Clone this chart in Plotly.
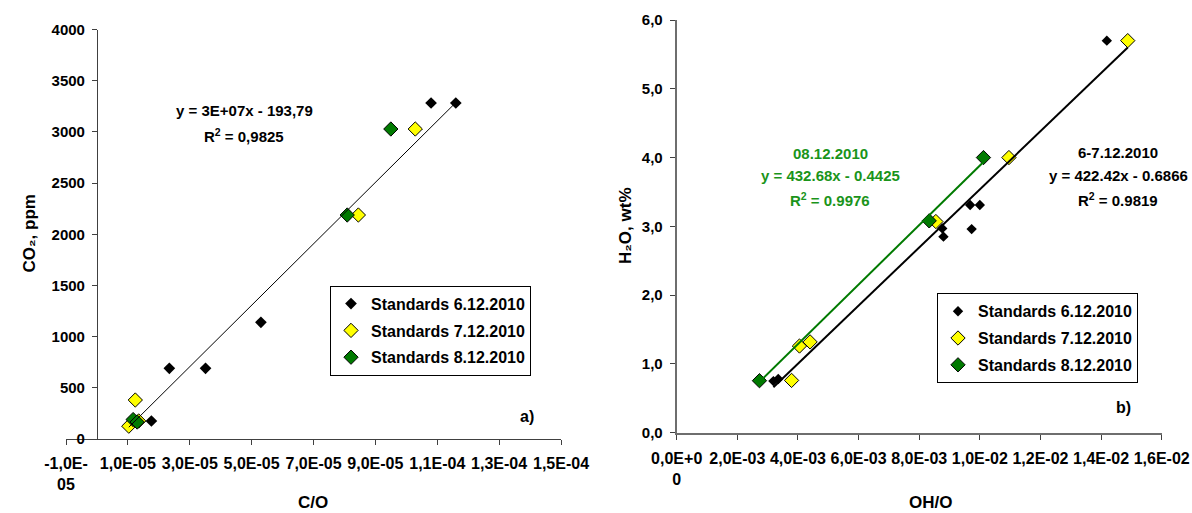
import plotly.graph_objects as go

W, H = 1192, 513
FONT = "Liberation Sans, Arial, sans-serif"

# ---- panel a) : CO2 vs C/O ----
co_black_x = [1.76e-05, 2.34e-05, 3.51e-05, 5.30e-05, 1.08e-04, 1.16e-04]
co_black_y = [176, 690, 690, 1140, 3282, 3282]
co_yellow_x = [1.24e-05, 1.03e-05, 1.35e-05, 8.45e-05, 1.029e-04]
co_yellow_y = [381, 125, 176, 2188, 3028]
co_green_x = [1.17e-05, 1.30e-05, 8.09e-05, 9.50e-05]
co_green_y = [190, 166, 2188, 3028]
co_slope, co_icpt = 3e7, -193.79

co_xticks = [-1e-05, 1e-05, 3e-05, 5e-05, 7e-05, 9e-05, 1.1e-04, 1.3e-04, 1.5e-04]
co_xtext = ["-1,0E-<br>05", "1,0E-05", "3,0E-05", "5,0E-05", "7,0E-05",
            "9,0E-05", "1,1E-04", "1,3E-04", "1,5E-04"]
co_yticks = [0, 500, 1000, 1500, 2000, 2500, 3000, 3500, 4000]
co_ytext = ["0", "500", "1000", "1500", "2000", "2500", "3000", "3500", "4000"]

# ---- panel b) : H2O vs OH/O ----
oh_black_x = [14.19e-03, 9.68e-03, 10.0e-03, 9.73e-03, 8.80e-03, 8.76e-03, 3.19e-03, 3.35e-03]
oh_black_y = [5.70, 3.31, 3.31, 2.96, 2.85, 2.97, 0.75, 0.78]
oh_yellow_x = [14.88e-03, 10.96e-03, 8.55e-03, 4.05e-03, 4.40e-03, 3.79e-03]
oh_yellow_y = [5.70, 4.00, 3.07, 1.26, 1.32, 0.76]
oh_green_x = [10.12e-03, 8.33e-03, 2.73e-03]
oh_green_y = [4.00, 3.08, 0.756]
fit67_slope, fit67_icpt = 422.42, -0.6866
fit8_slope, fit8_icpt = 432.68, -0.4425

oh_xticks = [0, 2e-03, 4e-03, 6e-03, 8e-03, 1e-02, 1.2e-02, 1.4e-02, 1.6e-02]
oh_xtext = ["0,0E+0<br>0", "2,0E-03", "4,0E-03", "6,0E-03", "8,0E-03",
            "1,0E-02", "1,2E-02", "1,4E-02", "1,6E-02"]
oh_yticks = [0, 1, 2, 3, 4, 5, 6]
oh_ytext = ["0,0", "1,0", "2,0", "3,0", "4,0", "5,0", "6,0"]

series_names = ["Standards 6.12.2010", "Standards 7.12.2010", "Standards 8.12.2010"]

BLACK, YELLOW, GREEN = "#000000", "#ffff00", "#007a00"
TXT_GREEN = "#1a941a"

# plot-area geometry in pixels
A_X0, A_X1, A_YTOP, A_YBOT = 66, 561, 29.5, 439
B_X0, B_X1, B_YTOP, B_YBOT = 676.7, 1161.7, 20, 432.7
co_range = [-1e-05, 1.5e-04]
oh_range = [0, 0.016]

fig = go.Figure()


def markers(x, y, name, color, size, line_w, xa, ya, leg, grp):
    fig.add_trace(go.Scatter(
        x=x, y=y, mode="markers", name=name, legend=leg, legendgroup=grp,
        xaxis=xa, yaxis=ya,
        marker=dict(symbol="diamond", size=size, color=color,
                    line=dict(color="black", width=line_w)),
    ))


# panel a markers
markers(co_black_x, co_black_y, series_names[0], BLACK, 9, 0, "x", "y", "legend", "a1")
markers(co_yellow_x, co_yellow_y, series_names[1], YELLOW, 11, 1, "x", "y", "legend", "a2")
markers(co_green_x, co_green_y, series_names[2], GREEN, 11, 1, "x", "y", "legend", "a3")

# panel a trend line (all standards)
all_co_x = co_black_x + co_yellow_x + co_green_x
lx = [min(all_co_x), max(all_co_x)]
fig.add_trace(go.Scatter(x=lx, y=[co_slope * v + co_icpt for v in lx], mode="lines",
                         line=dict(color="black", width=1), showlegend=False,
                         hoverinfo="skip", xaxis="x", yaxis="y"))

# panel b markers
markers(oh_black_x, oh_black_y, series_names[0], BLACK, 8, 0, "x2", "y2", "legend2", "b1")
markers(oh_yellow_x, oh_yellow_y, series_names[1], YELLOW, 11, 1, "x2", "y2", "legend2", "b2")
markers(oh_green_x, oh_green_y, series_names[2], GREEN, 11, 1, "x2", "y2", "legend2", "b3")

# panel b trend lines
x67 = oh_black_x + oh_yellow_x
l67 = [min(x67), max(x67)]
fig.add_trace(go.Scatter(x=l67, y=[fit67_slope * v + fit67_icpt for v in l67], mode="lines",
                         line=dict(color="black", width=2), showlegend=False,
                         hoverinfo="skip", xaxis="x2", yaxis="y2"))
l8 = [min(oh_green_x), max(oh_green_x)]
fig.add_trace(go.Scatter(x=l8, y=[fit8_slope * v + fit8_icpt for v in l8], mode="lines",
                         line=dict(color=GREEN, width=2), showlegend=False,
                         hoverinfo="skip", xaxis="x2", yaxis="y2"))

xtickfont = dict(family=FONT, size=16, color="black", weight="bold")
ytickfont = dict(family=FONT, size=15, color="black", weight="bold")
titlefont = dict(family=FONT, size=17, color="black", weight="bold")
legfont = dict(family=FONT, size=16, color="black", weight="bold")

a_dom = [A_X0 / W, A_X1 / W]
a_ypos = a_dom[0] + (0 - co_range[0]) / (co_range[1] - co_range[0]) * (a_dom[1] - a_dom[0])

axis_common = dict(showgrid=False, zeroline=False, showline=True, ticks="outside",
                   ticklen=5, tickcolor="#404040", automargin=False, tickmode="array")

fig.update_layout(
    width=W, height=H, margin=dict(l=0, r=0, t=0, b=0),
    paper_bgcolor="white", plot_bgcolor="white",
    font=dict(family=FONT, color="black"),
    xaxis=dict(domain=a_dom, range=co_range, anchor="y", tickvals=co_xticks,
               ticktext=co_xtext, linecolor="#404040", linewidth=1, tickfont=xtickfont,
               ticklabelstandoff=5, **axis_common),
    yaxis=dict(domain=[(H - A_YBOT) / H, (H - A_YTOP) / H], range=[0, 4000],
               anchor="free", position=a_ypos, tickvals=co_yticks, ticktext=co_ytext,
               linecolor="#404040", linewidth=1, tickfont=ytickfont,
               ticklabelstandoff=4, **axis_common),
    xaxis2=dict(domain=[B_X0 / W, B_X1 / W], range=oh_range, anchor="y2",
                tickvals=oh_xticks, ticktext=oh_xtext, linecolor="#6e6e6e", linewidth=2,
                tickfont=xtickfont, ticklabelstandoff=5, **axis_common),
    yaxis2=dict(domain=[(H - B_YBOT) / H, (H - B_YTOP) / H], range=[0, 6], anchor="x2",
                tickvals=oh_yticks, ticktext=oh_ytext, linecolor="#6e6e6e", linewidth=2,
                tickfont=ytickfont, ticklabelstandoff=4, **axis_common),
    legend=dict(x=330 / W, y=(H - 285.7) / H, xanchor="left", yanchor="top",
                bgcolor="white", bordercolor="black", borderwidth=1,
                font=legfont, tracegroupgap=3, traceorder="grouped"),
    legend2=dict(x=937 / W, y=(H - 293.3) / H, xanchor="left", yanchor="top",
                 bgcolor="white", bordercolor="black", borderwidth=1,
                 font=legfont, tracegroupgap=3, traceorder="grouped"),
    showlegend=True,
)


def note(text, px, py, size=15, color="black"):
    fig.add_annotation(text="<b>" + text + "</b>", x=px / W, y=(H - py) / H,
                       xref="paper", yref="paper", showarrow=False,
                       xanchor="center", yanchor="middle",
                       font=dict(family=FONT, size=size, color=color))


# axis titles
note("C/O", 313, 502, 17)
note("OH/O", 930, 502, 17)
fig.add_annotation(text="<b>CO₂, ppm</b>", x=17 / W, y=(H - 234) / H, xref="paper",
                   yref="paper", showarrow=False, textangle=-90,
                   font=titlefont)
fig.add_annotation(text="<b>H₂O, wt%</b>", x=625 / W, y=(H - 226) / H, xref="paper",
                   yref="paper", showarrow=False, textangle=-90,
                   font=titlefont)

# regression labels
note(f"y = 3E+07x - {abs(co_icpt):.2f}".replace(".", ","), 244.5, 110)
note("R<sup>2</sup> = 0,9825", 244, 135)
note("08.12.2010", 830, 153, 15, TXT_GREEN)
note(f"y = {fit8_slope}x - {abs(fit8_icpt)}", 830, 175.5, 15, TXT_GREEN)
note("R<sup>2</sup> = 0.9976", 830, 199, 15, TXT_GREEN)
note("6-7.12.2010", 1118, 152)
note(f"y = {fit67_slope}x - {abs(fit67_icpt)}", 1118, 175)
note("R<sup>2</sup> = 0.9819", 1118, 199)

# panel letters
note("a)", 527, 416, 16)
note("b)", 1123, 407, 16)

fig.write_html("out.html")
